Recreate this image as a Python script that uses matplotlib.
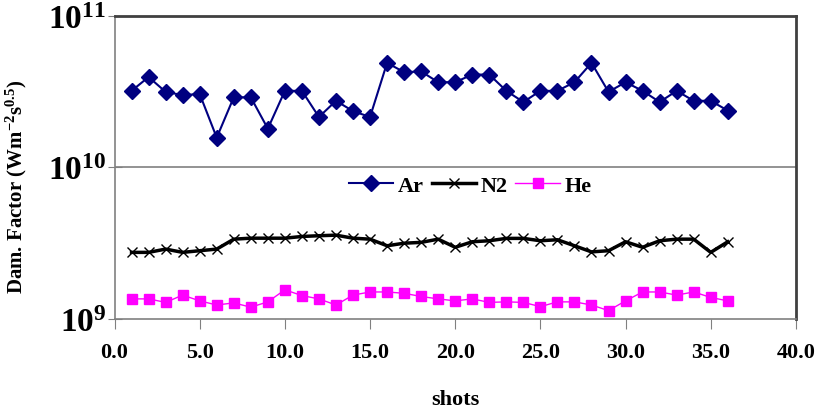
import numpy as np
import matplotlib
matplotlib.use("Agg")
import matplotlib.pyplot as plt
from matplotlib.ticker import LogLocator, LogFormatterMathtext, MultipleLocator, FormatStrFormatter

plt.rcParams['font.family'] = ['Liberation Serif', 'DejaVu Serif']
plt.rcParams['font.weight'] = 'bold'
plt.rcParams['mathtext.fontset'] = 'custom'
plt.rcParams['mathtext.rm'] = 'Liberation Serif:bold'
plt.rcParams['mathtext.it'] = 'Liberation Serif:bold'
plt.rcParams['mathtext.bf'] = 'Liberation Serif:bold'

# shot numbers
shots = np.arange(1, 37)

# damage factor per gas
ar = np.array([3.2, 3.95, 3.15, 3.0, 3.05, 1.57, 2.9, 2.9, 1.8, 3.2, 3.2, 2.15,
               2.75, 2.35, 2.15, 4.9, 4.25, 4.3, 3.65, 3.65, 4.1, 4.1, 3.2, 2.7,
               3.2, 3.2, 3.65, 4.9, 3.15, 3.65, 3.2, 2.7, 3.2, 2.75, 2.75, 2.37]) * 1e10
n2 = np.array([2.74, 2.74, 2.88, 2.74, 2.81, 2.88, 3.35, 3.40, 3.40, 3.40, 3.49, 3.53,
               3.56, 3.40, 3.35, 3.03, 3.15, 3.19, 3.35, 2.96, 3.22, 3.27, 3.39, 3.39,
               3.27, 3.32, 3.03, 2.76, 2.81, 3.22, 2.96, 3.27, 3.35, 3.35, 2.74, 3.22]) * 1e9
he = np.array([1.35, 1.35, 1.28, 1.43, 1.31, 1.23, 1.27, 1.19, 1.29, 1.55, 1.42, 1.35,
               1.23, 1.43, 1.50, 1.50, 1.47, 1.40, 1.35, 1.31, 1.35, 1.28, 1.29, 1.28,
               1.20, 1.29, 1.29, 1.23, 1.13, 1.31, 1.50, 1.50, 1.43, 1.50, 1.38, 1.31]) * 1e9

fig = plt.figure(figsize=(8.18, 4.14), dpi=100)
ax = fig.add_axes([0.14, 0.228, 0.833, 0.731])

ax.plot(shots, ar, color='#000080', lw=1.5, marker='D', ms=8.5, label='Ar')
ax.plot(shots, n2, color='black', lw=2.5, marker='x', ms=7, mew=1.0, label='N2')
ax.plot(shots, he, color='#ff00ff', lw=1.0, marker='s', ms=7.5, label='He')

ax.set_yscale('log')
ax.set_ylim(1e9, 1e11)
ax.set_xlim(0, 40)
ax.xaxis.set_major_locator(MultipleLocator(5))
ax.xaxis.set_major_formatter(FormatStrFormatter('%.1f'))
ax.yaxis.set_major_locator(LogLocator(base=10, numticks=5))
ax.yaxis.set_major_formatter(LogFormatterMathtext())
ax.yaxis.set_minor_locator(plt.NullLocator())

ax.axhline(1e10, color='#808080', lw=1.2, zorder=0)

for s in ['left', 'bottom']:
    ax.spines[s].set_color('#808080')
    ax.spines[s].set_linewidth(1.2)
for s in ['top', 'right']:
    ax.spines[s].set_color('#404040')
    ax.spines[s].set_linewidth(2)

ax.tick_params(axis='x', direction='out', length=7, color='#808080', labelsize=16, pad=10)
ax.tick_params(axis='y', direction='inout', length=10, color='#808080', labelsize=24, pad=1)

ax.set_xlabel('shots', fontsize=16, fontweight='bold', labelpad=19)
ax.set_ylabel(r'Dam. Factor (Wm$^{-2}$s$^{0.5}$)', fontsize=15, fontweight='bold')
ax.yaxis.set_label_coords(-0.125, 0.44)

leg = ax.legend(loc='center', bbox_to_anchor=(0.522, 0.44), ncol=3, frameon=True,
                fontsize=16, handlelength=2.0, columnspacing=0.35, handletextpad=0.2,
                borderpad=0.3)
leg.get_frame().set_edgecolor('white')
leg.get_frame().set_facecolor('white')
leg.get_frame().set_alpha(1)
leg.get_frame().set_boxstyle('square', pad=0)

fig.savefig('out.png', dpi=100)
